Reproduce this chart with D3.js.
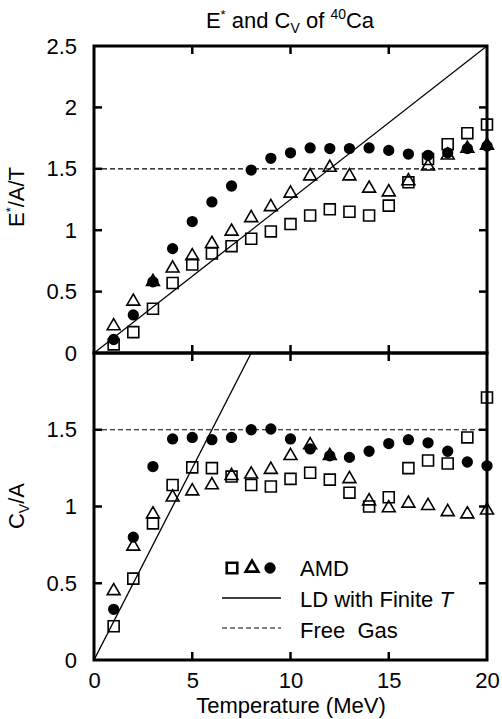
<!DOCTYPE html>
<html><head><meta charset="utf-8">
<script src="https://cdn.jsdelivr.net/npm/d3@7"></script>
<style>
html,body{margin:0;padding:0;background:#fff;}
svg{display:block;font-family:"Liberation Sans",Arial,Helvetica,sans-serif;}
text{white-space:pre;}
</style></head>
<body><svg id="c" width="502" height="719"></svg>
<script>
// ---- data ----
const temps = [1,2,3,4,5,6,7,8,9,10,11,12,13,14,15,16,17,18,19,20];
// E*/A/T (top panel)
const eSquare = [0.07,0.17,0.36,0.57,0.72,0.81,0.87,0.93,0.99,1.05,1.12,1.17,1.15,1.12,1.20,1.39,1.58,1.70,1.79,1.86];
const eTriangle = [0.22,0.42,0.58,0.69,0.79,0.89,0.99,1.10,1.19,1.30,1.44,1.51,1.44,1.34,1.31,1.40,1.52,1.61,1.665,1.69];
const eCircle = [0.11,0.31,0.58,0.85,1.07,1.23,1.36,1.49,1.585,1.63,1.67,1.665,1.665,1.67,1.65,1.62,1.61,1.63,1.665,1.685];
// C_V/A (bottom panel)
const cSquare = [0.22,0.53,0.89,1.14,1.255,1.25,1.195,1.14,1.13,1.18,1.22,1.175,1.09,1.00,1.06,1.25,1.30,1.28,1.45,1.71];
const cTriangle = [0.45,0.74,0.95,1.06,1.10,1.14,1.20,1.21,1.24,1.33,1.40,1.33,1.18,1.035,0.99,1.02,1.005,0.965,0.95,0.975];
const cCircle = [0.33,0.80,1.26,1.44,1.45,1.435,1.45,1.50,1.505,1.44,1.375,1.33,1.32,1.36,1.41,1.435,1.415,1.36,1.29,1.265];
// LD with finite T (straight line endpoints) and free gas level
const ldTopT = [0,20], ldTopV = [0,2.5];
const ldBotT = [0,8],  ldBotV = [0,2];
const freeGas = 1.5;
// tick labels
const xTicks = [0,5,10,15,20];
const topYTicks = [0,0.5,1,1.5,2,2.5];
const botYTicks = [0,0.5,1,1.5];

// ---- layout ----
const L = 94, R = 487, T1 = 46, MID = 353, B2 = 660;
const svg = d3.select("#c");
const x = d3.scaleLinear().domain([0,20]).range([L,R]);
const yTop = d3.scaleLinear().domain([0,2.5]).range([MID,T1]);
const yBot = d3.scaleLinear().domain([0,2]).range([B2,MID]);
const FS = 22;

const defs = svg.append("defs");
defs.append("clipPath").attr("id","clipTop").append("rect").attr("x",L).attr("y",T1).attr("width",R-L).attr("height",MID-T1);
defs.append("clipPath").attr("id","clipBot").append("rect").attr("x",L).attr("y",MID).attr("width",R-L).attr("height",B2-MID);

function panel(y, clip, ldT, ldV, sq, tr, ci, yTicks, innerTicks) {
  const g = svg.append("g").attr("clip-path", `url(#${clip})`);
  // free gas
  g.append("line").attr("x1",x(0)).attr("x2",x(20)).attr("y1",y(freeGas)).attr("y2",y(freeGas))
    .attr("stroke","#000").attr("stroke-width",1.2).attr("stroke-dasharray","5,3");
  // LD line
  const line = d3.line().x(d=>x(d[0])).y(d=>y(d[1]));
  g.append("path").attr("d", line(ldT.map((t,i)=>[t,ldV[i]]))).attr("fill","none").attr("stroke","#000").attr("stroke-width",1.3);
  // axes: left labels
  const left = svg.append("g").attr("transform",`translate(${L},0)`)
    .call(d3.axisLeft(y).tickValues(yTicks).tickSize(0).tickPadding(17).tickFormat(d3.format("")));
  left.select(".domain").remove();
  left.selectAll("text").attr("font-size",FS).attr("font-family","Liberation Sans, Arial, sans-serif").attr("fill","#000");
  const tg = svg.append("g").attr("stroke","#000").attr("stroke-width",2.5);
  innerTicks.forEach(v=>{
    tg.append("line").attr("x1",L).attr("x2",L+8).attr("y1",y(v)).attr("y2",y(v));
    tg.append("line").attr("x1",R).attr("x2",R-8).attr("y1",y(v)).attr("y2",y(v));
  });
  const [ylo, yhi] = y.range();
  [5,10,15].forEach(v=>{
    tg.append("line").attr("x1",x(v)).attr("x2",x(v)).attr("y1",ylo).attr("y2",ylo-8);
    tg.append("line").attr("x1",x(v)).attr("x2",x(v)).attr("y1",yhi).attr("y2",yhi+8);
  });
  svg.append("rect").attr("x",L).attr("y",yhi).attr("width",R-L).attr("height",ylo-yhi)
    .attr("fill","none").attr("stroke","#000").attr("stroke-width",3);
  // markers (not clipped)
  const m = svg.append("g");
  const sqSym = d3.symbol().type(d3.symbolSquare).size(120);
  const trSym = d3.symbol().type(d3.symbolTriangle).size(72);
  const ciSym = d3.symbol().type(d3.symbolCircle).size(100);
  m.selectAll(null).data(temps).enter().append("path").attr("d",sqSym)
    .attr("transform",(t,i)=>`translate(${x(t)},${y(sq[i])})`).attr("fill","none").attr("stroke","#000").attr("stroke-width",1.6);
  m.selectAll(null).data(temps).enter().append("path").attr("d",trSym)
    .attr("transform",(t,i)=>`translate(${x(t)},${y(tr[i])})`).attr("fill","none").attr("stroke","#000").attr("stroke-width",1.6);
  m.selectAll(null).data(temps).enter().append("path").attr("d",ciSym)
    .attr("transform",(t,i)=>`translate(${x(t)},${y(ci[i])})`).attr("fill","#000");
}
panel(yTop,"clipTop",ldTopT,ldTopV,eSquare,eTriangle,eCircle,topYTicks,[0.5,1,1.5,2]);
panel(yBot,"clipBot",ldBotT,ldBotV,cSquare,cTriangle,cCircle,botYTicks,[0.5,1,1.5]);

// x axis labels
const xa = svg.append("g").attr("transform",`translate(0,${B2})`)
  .call(d3.axisBottom(x).tickValues(xTicks).tickSize(0).tickPadding(12).tickFormat(d3.format("")));
xa.select(".domain").remove();
xa.selectAll("text").attr("font-size",FS).attr("font-family","Liberation Sans, Arial, sans-serif").attr("fill","#000");

svg.append("text").attr("x",291).attr("y",713).attr("text-anchor","middle").attr("font-size",FS).text("Temperature (MeV)");

// title
const tt = svg.append("text").attr("x",290).attr("y",28).attr("text-anchor","middle").attr("font-size",FS);
tt.append("tspan").text("E");
tt.append("tspan").attr("font-size",13).attr("dy",-9).text("*");
tt.append("tspan").attr("dy",9).text(" and C");
tt.append("tspan").attr("font-size",14).attr("dy",5).text("V");
tt.append("tspan").attr("dy",-5).text(" of ");
tt.append("tspan").attr("font-size",14).attr("dy",-9).text("40");
tt.append("tspan").attr("dy",9).text("Ca");

// y labels
const yl1 = svg.append("text").attr("transform","translate(24,197) rotate(-90)").attr("text-anchor","middle").attr("font-size",FS);
yl1.append("tspan").text("E");
yl1.append("tspan").attr("font-size",13).attr("dy",-9).text("*");
yl1.append("tspan").attr("dy",9).text("/A/T");
const yl2 = svg.append("text").attr("transform","translate(24,506) rotate(-90)").attr("text-anchor","middle").attr("font-size",FS);
yl2.append("tspan").text("C");
yl2.append("tspan").attr("font-size",14).attr("dy",5).text("V");
yl2.append("tspan").attr("dy",-5).text("/A");

// legend
const lg = svg.append("g");
lg.append("path").attr("d",d3.symbol().type(d3.symbolSquare).size(110)).attr("transform","translate(232,568)")
  .attr("fill","none").attr("stroke","#000").attr("stroke-width",2.6);
lg.append("path").attr("d",d3.symbol().type(d3.symbolTriangle).size(70)).attr("transform","translate(252,568)")
  .attr("fill","none").attr("stroke","#000").attr("stroke-width",2.6);
lg.append("path").attr("d",d3.symbol().type(d3.symbolCircle).size(100)).attr("transform","translate(270,568)").attr("fill","#000");
lg.append("line").attr("x1",222).attr("x2",281).attr("y1",598).attr("y2",598).attr("stroke","#000").attr("stroke-width",1.3);
lg.append("line").attr("x1",222).attr("x2",281).attr("y1",628).attr("y2",628).attr("stroke","#000").attr("stroke-width",1.2).attr("stroke-dasharray","5,3");
lg.append("text").attr("x",300).attr("y",576).attr("font-size",FS).text("AMD");
const ldt = lg.append("text").attr("x",300).attr("y",607).attr("font-size",FS);
ldt.append("tspan").text("LD with Finite ");
ldt.append("tspan").attr("font-style","italic").text("T");
lg.append("text").attr("x",300).attr("y",638).attr("font-size",FS).text("Free  Gas");
</script></body></html>
